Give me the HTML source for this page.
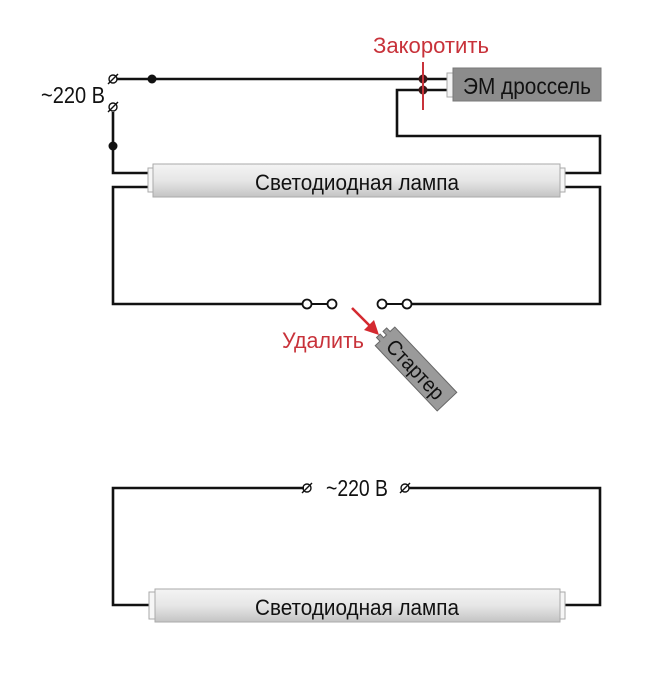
<!DOCTYPE html>
<html><head><meta charset="utf-8"><style>
html,body{margin:0;padding:0;background:#fff;}
svg{display:block;}
text{font-family:"Liberation Sans","DejaVu Sans",sans-serif;}
</style></head><body>
<svg width="650" height="673" viewBox="0 0 650 673" xmlns="http://www.w3.org/2000/svg">
<defs>
<linearGradient id="lg" x1="0" y1="0" x2="0" y2="1">
<stop offset="0" stop-color="#f4f4f4"/><stop offset="0.5" stop-color="#e6e6e6"/><stop offset="1" stop-color="#c4c4c4"/>
</linearGradient>
</defs>
<g fill="none" stroke="#111" stroke-width="2.6">
<path d="M117 79 H447"/>
<path d="M423 90 H447"/>
<path d="M113 112 V173 H148"/>
<path d="M148 187 H113 V304 H303"/>
<path d="M411 304 H600 V187 H565"/>
<path d="M565 173 H600 V136 H397 V90 H423"/>
<path d="M304 488 H113 V605 H150"/>
<path d="M409 488 H600 V605 H565"/>
</g>
<path d="M311 304 H328 M386 304 H403" stroke="#111" stroke-width="2"/>
<g fill="#fff" stroke="#111" stroke-width="1.8">
<circle cx="307" cy="304" r="4.5"/><circle cx="332" cy="304" r="4.5"/>
<circle cx="382" cy="304" r="4.5"/><circle cx="407" cy="304" r="4.5"/>
</g>
<g fill="none" stroke="#111" stroke-width="1.4">
<circle cx="113" cy="79" r="4"/><line x1="108" y1="84" x2="118" y2="74"/>
<circle cx="113" cy="107" r="4"/><line x1="108" y1="112" x2="118" y2="102"/>
<circle cx="307" cy="488" r="4"/><line x1="302" y1="493" x2="312" y2="483"/>
<circle cx="405" cy="488" r="4"/><line x1="400" y1="493" x2="410" y2="483"/>
</g>
<g fill="#111"><circle cx="152" cy="79" r="4.5"/><circle cx="113" cy="146" r="4.5"/></g>
<rect x="447" y="73" width="6" height="24" fill="#f4f4f4" stroke="#aaa" stroke-width="1"/>
<rect x="453" y="68" width="148" height="33" fill="#8c8c8c" stroke="#777" stroke-width="1"/>
<text x="527" y="94" font-size="23" text-anchor="middle" fill="#111" textLength="128" lengthAdjust="spacingAndGlyphs">ЭМ дроссель</text>
<g fill="#3a1a1a"><circle cx="423" cy="79" r="4.5"/><circle cx="423" cy="90" r="4.5"/></g>
<line x1="423" y1="62" x2="423" y2="110" stroke="#c8323a" stroke-width="2"/>
<text x="431" y="53" font-size="22" text-anchor="middle" fill="#c8323a" textLength="116" lengthAdjust="spacingAndGlyphs">Закоротить</text>
<text x="73" y="103" font-size="23" text-anchor="middle" fill="#111" textLength="64" lengthAdjust="spacingAndGlyphs">~220 В</text>
<text x="357" y="496" font-size="23" text-anchor="middle" fill="#111" textLength="62" lengthAdjust="spacingAndGlyphs">~220 В</text>
<rect x="148" y="168" width="6" height="24" fill="#f6f6f6" stroke="#aaa" stroke-width="1"/>
<rect x="559" y="168" width="6" height="24" fill="#f6f6f6" stroke="#aaa" stroke-width="1"/>
<rect x="153" y="164" width="407" height="33" fill="url(#lg)" stroke="#aaa" stroke-width="1"/>
<text x="357" y="190" font-size="22" text-anchor="middle" fill="#111" textLength="204" lengthAdjust="spacingAndGlyphs">Светодиодная лампа</text>
<rect x="149" y="592" width="6" height="27" fill="#f6f6f6" stroke="#aaa" stroke-width="1"/>
<rect x="559" y="592" width="6" height="27" fill="#f6f6f6" stroke="#aaa" stroke-width="1"/>
<rect x="155" y="589" width="405" height="33" fill="url(#lg)" stroke="#aaa" stroke-width="1"/>
<text x="357" y="615" font-size="22" text-anchor="middle" fill="#111" textLength="204" lengthAdjust="spacingAndGlyphs">Светодиодная лампа</text>
<line x1="352" y1="308" x2="371" y2="327" stroke="#d42a30" stroke-width="2.6"/>
<polygon points="379,335 364,330 374,320" fill="#d42a30"/>
<text x="323" y="348" font-size="22" text-anchor="middle" fill="#c8323a" textLength="82" lengthAdjust="spacingAndGlyphs">Удалить</text>
<g transform="translate(416,369) rotate(46.5)">
<path d="M-45 -13.5 H45 V13.5 H-45 V7 H-50 V2 H-45 V-2 H-50 V-7 H-45 Z" fill="#9a9a9a" stroke="#666" stroke-width="1"/>
<text x="0" y="8" font-size="21" text-anchor="middle" fill="#111" textLength="74" lengthAdjust="spacingAndGlyphs">Стартер</text>
</g>
</svg>
</body></html>
